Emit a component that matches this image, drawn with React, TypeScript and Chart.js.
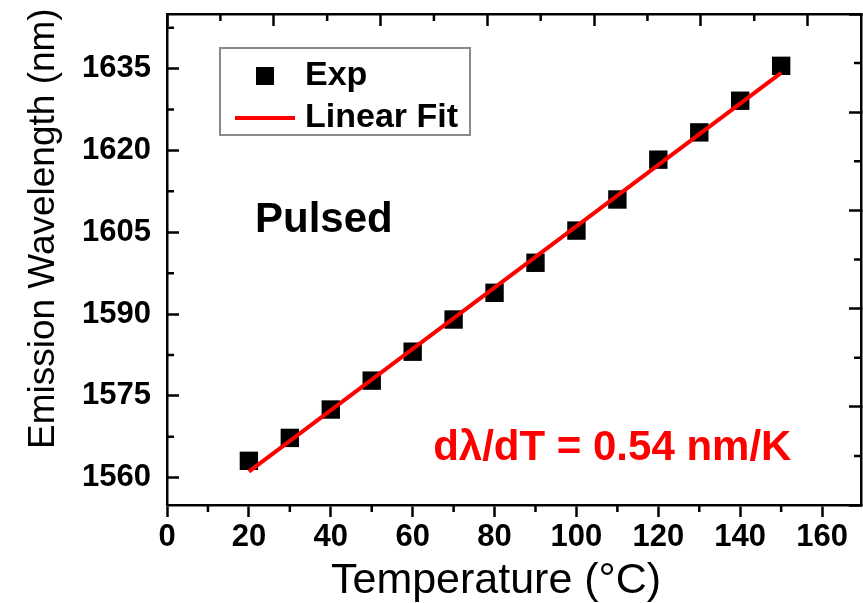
import React, { useEffect, useRef } from 'react';
import { Chart, registerables } from 'chart.js';

Chart.register(...registerables);

// ---- data ----
const TEMPERATURES = [20, 30, 40, 50, 60, 70, 80, 90, 100, 110, 120, 130, 140, 150];
const WAVELENGTHS = [1563.1, 1567.3, 1572.5, 1577.8, 1583.1, 1589.0, 1593.9, 1599.4, 1605.3, 1611.0, 1618.3, 1623.3, 1629.1, 1635.5];
const FIT_T = [20, 150];
const FIT_WL = [1561.1, 1634.2];

const X_RANGE = [0, 169.5];
const Y_RANGE = [1555, 1645];
const X_TICKS = [0, 20, 40, 60, 80, 100, 120, 140, 160];
const X_MINOR = [10, 30, 50, 70, 90, 110, 130, 150];
const Y_TICKS = [1560, 1575, 1590, 1605, 1620, 1635];
const Y_MINOR = [1567.5, 1582.5, 1597.5, 1612.5, 1627.5, 1642.5];
const TOP_RANGE = [0, 6.5];
const TOP_TICKS = [0, 1, 2, 3, 4, 5, 6];
const TOP_MINOR = [0.5, 1.5, 2.5, 3.5, 4.5, 5.5];
const RIGHT_RANGE = [0, 5];
const RIGHT_TICKS = [0, 1, 2, 3, 4, 5];
const RIGHT_MINOR = [0.5, 1.5, 2.5, 3.5, 4.5];

const X_TITLE = 'Temperature (°C)   ';
const Y_TITLE = '      Emission Wavelength (nm)';
const LABEL_PULSED = 'Pulsed';
const PULSED_AT = [21.5, 1607.1];
const LABEL_SLOPE = 'dλ/dT = 0.54 nm/K';
const SLOPE_AT = [65, 1565.4];

const FONT = "'Liberation Sans', Arial, Helvetica, sans-serif";

const zeroPadding = (s: any) => {
  s.paddingLeft = 0;
  s.paddingRight = 0;
  s.paddingTop = 0;
  s.paddingBottom = 0;
};

const minorTicksPlugin = {
  id: 'minorTicks',
  afterDraw(chart: any) {
    const { ctx, chartArea: ca, scales } = chart;
    const len = 7;
    ctx.save();
    ctx.strokeStyle = '#000';
    ctx.lineWidth = 2.5;
    ctx.beginPath();
    X_MINOR.forEach((v) => {
      const px = scales.x.getPixelForValue(v);
      ctx.moveTo(px, ca.bottom);
      ctx.lineTo(px, ca.bottom + len);
    });
    Y_MINOR.forEach((v) => {
      const py = scales.y.getPixelForValue(v);
      ctx.moveTo(ca.left, py);
      ctx.lineTo(ca.left + len, py);
    });
    TOP_MINOR.forEach((v) => {
      const px = scales.x2.getPixelForValue(v);
      ctx.moveTo(px, ca.top);
      ctx.lineTo(px, ca.top + len);
    });
    RIGHT_MINOR.forEach((v) => {
      const py = scales.y2.getPixelForValue(v);
      ctx.moveTo(ca.right, py);
      ctx.lineTo(ca.right - len, py);
    });
    ctx.stroke();
    ctx.restore();
  },
};

const annotationPlugin = {
  id: 'annotations',
  afterDatasetsDraw(chart: any) {
    const { ctx, scales } = chart;
    ctx.save();
    ctx.textAlign = 'left';
    ctx.textBaseline = 'middle';
    ctx.font = `bold 42px ${FONT}`;
    ctx.fillStyle = '#000';
    ctx.fillText(LABEL_PULSED, scales.x.getPixelForValue(PULSED_AT[0]), scales.y.getPixelForValue(PULSED_AT[1]));
    ctx.fillStyle = '#ff0000';
    ctx.fillText(LABEL_SLOPE, scales.x.getPixelForValue(SLOPE_AT[0]), scales.y.getPixelForValue(SLOPE_AT[1]));
    ctx.restore();
  },
};

const LEGEND_DX = 67;
const LEGEND_DY = 37;
const LEGEND_FONT = 34;
const LEGEND_PAD = 8;
const LEGEND_BOXW = 46;

const legendPlacePlugin = {
  id: 'legendPlace',
  beforeDraw(chart: any) {
    const lg = chart.legend;
    if (!lg) return;
    const ca = chart.chartArea;
    const w = lg.width;
    lg.left = ca.left + LEGEND_DX;
    lg.top = ca.top + LEGEND_DY;
    lg.right = lg.left + w;
    lg.height = 300;
    lg.bottom = lg.top + 300;
  },
  afterDraw(chart: any) {
    const lg = chart.legend;
    if (!lg) return;
    const { ctx } = chart;
    const cx = lg.left + LEGEND_PAD;
    const cy = lg.top + LEGEND_PAD;
    ctx.save();
    ctx.font = `bold ${LEGEND_FONT}px ${FONT}`;
    let maxW = 0;
    (lg.legendItems || []).forEach((it: any) => {
      maxW = Math.max(maxW, ctx.measureText(it.text).width);
    });
    const n = (lg.legendItems || []).length;
    const textX = cx + LEGEND_BOXW + LEGEND_FONT / 2;
    const left = cx - 22;
    const top = cy - 11;
    const right = textX + maxW + 12;
    const bottom = cy + n * (LEGEND_FONT + LEGEND_PAD) - LEGEND_PAD;
    ctx.strokeStyle = '#8a8a8a';
    ctx.lineWidth = 2;
    ctx.strokeRect(left, top, right - left, bottom - top);
    ctx.restore();
  },
};

export default function App() {
  const ref = useRef<HTMLCanvasElement | null>(null);

  useEffect(() => {
    if (!ref.current) return;

    const sq = document.createElement('canvas');
    sq.width = 18;
    sq.height = 18;
    const sctx = sq.getContext('2d')!;
    sctx.fillStyle = '#000';
    sctx.fillRect(0, 0, 18, 18);

    const ln = document.createElement('canvas');
    ln.width = 60;
    ln.height = 4;
    const lctx = ln.getContext('2d')!;
    lctx.fillStyle = '#ff0000';
    lctx.fillRect(0, 0, 60, 4);

    const tickFont = { family: FONT, size: 31, weight: 'bold' as const };
    const border = { display: true, color: '#000', width: 2.5 };
    const tickGrid = (len: number) => ({
      display: true,
      drawOnChartArea: false,
      drawTicks: true,
      tickLength: len,
      tickWidth: 2.5,
      tickColor: '#000',
    });

    const chart = new Chart(ref.current, {
      type: 'scatter',
      data: {
        datasets: [
          {
            label: 'Exp',
            data: TEMPERATURES.map((t, i) => ({ x: t, y: WAVELENGTHS[i] })),
            pointStyle: 'rect',
            pointRadius: 13,
            pointHoverRadius: 13,
            backgroundColor: '#000',
            borderColor: '#000',
            borderWidth: 0,
            order: 1,
          },
          {
            label: 'Linear Fit',
            data: FIT_T.map((t, i) => ({ x: t, y: FIT_WL[i] })),
            showLine: true,
            borderColor: '#ff0000',
            backgroundColor: '#ff0000',
            borderWidth: 4,
            pointRadius: 0,
            pointHoverRadius: 0,
            order: 0,
          } as any,
        ],
      },
      options: {
        responsive: false,
        animation: false,
        events: [],
        layout: { padding: 0, autoPadding: false },
        plugins: {
          tooltip: { enabled: false },
          legend: {
            display: true,
            position: 'chartArea' as any,
            align: 'start',
            labels: {
              usePointStyle: true,
              pointStyleWidth: LEGEND_BOXW,
              boxHeight: LEGEND_FONT,
              padding: LEGEND_PAD,
              color: '#000',
              font: { family: FONT, size: LEGEND_FONT, weight: 'bold' },
              generateLabels: (c: any) => {
                const items = (Chart.defaults.plugins.legend.labels as any).generateLabels(c);
                items.sort((a: any, b: any) => a.datasetIndex - b.datasetIndex);
                items.forEach((it: any) => {
                  it.pointStyle = it.datasetIndex === 0 ? sq : ln;
                });
                return items;
              },
            },
          },
        },
        scales: {
          x: {
            type: 'linear',
            position: 'bottom',
            min: X_RANGE[0],
            max: X_RANGE[1],
            afterBuildTicks: (s: any) => {
              s.ticks = X_TICKS.map((v) => ({ value: v }));
            },
            afterFit: (s: any) => {
              s.height = 98;
              zeroPadding(s);
            },
            ticks: {
              color: '#000',
              font: tickFont,
              padding: 2,
              maxRotation: 0,
              autoSkip: false,
              callback: (v: any) => String(v),
            },
            grid: tickGrid(12),
            border,
            title: {
              display: true,
              text: X_TITLE,
              color: '#000',
              font: { family: FONT, size: 43, lineHeight: 1 },
              padding: { top: 0, bottom: 0 },
            },
          },
          y: {
            type: 'linear',
            position: 'left',
            min: Y_RANGE[0],
            max: Y_RANGE[1],
            afterBuildTicks: (s: any) => {
              s.ticks = Y_TICKS.map((v) => ({ value: v }));
            },
            afterFit: (s: any) => {
              s.width = 167;
              zeroPadding(s);
            },
            ticks: {
              color: '#000',
              font: tickFont,
              padding: 28,
              autoSkip: false,
              callback: (v: any) => String(v),
            },
            grid: tickGrid(-12),
            border,
            title: {
              display: true,
              text: Y_TITLE,
              color: '#000',
              font: { family: FONT, size: 37, lineHeight: 1 },
              padding: { top: 25, bottom: 0 },
            },
          },
          x2: {
            type: 'linear',
            position: 'top',
            min: TOP_RANGE[0],
            max: TOP_RANGE[1],
            afterBuildTicks: (s: any) => {
              s.ticks = TOP_TICKS.map((v) => ({ value: v }));
            },
            afterFit: (s: any) => {
              s.height = 14;
              zeroPadding(s);
            },
            ticks: { display: false },
            grid: tickGrid(-12),
            border,
          },
          y2: {
            type: 'linear',
            position: 'right',
            min: RIGHT_RANGE[0],
            max: RIGHT_RANGE[1],
            afterBuildTicks: (s: any) => {
              s.ticks = RIGHT_TICKS.map((v) => ({ value: v }));
            },
            afterFit: (s: any) => {
              s.width = 2;
              zeroPadding(s);
            },
            ticks: { display: false },
            grid: tickGrid(-12),
            border,
          },
        },
      } as any,
      plugins: [legendPlacePlugin, minorTicksPlugin, annotationPlugin],
    });

    return () => {
      chart.destroy();
    };
  }, []);

  return (
    <div style={{ position: 'absolute', left: 0, top: 0, width: 863, height: 603, background: '#fff' }}>
      <canvas ref={ref} width={863} height={603} style={{ display: 'block' }} />
    </div>
  );
}
